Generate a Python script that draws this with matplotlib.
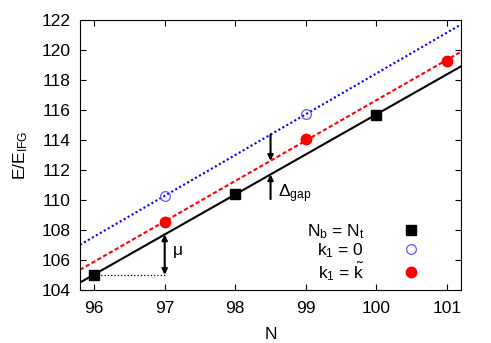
import numpy as np
import matplotlib
matplotlib.use("Agg")
import matplotlib.pyplot as plt

plt.rcParams['font.family'] = ['Liberation Sans', 'DejaVu Sans']
plt.rcParams['mathtext.fontset'] = 'custom'
plt.rcParams['mathtext.rm'] = 'Liberation Sans'
plt.rcParams['mathtext.it'] = 'Liberation Sans'

# Data
n_eq = [96, 98, 100]
e_eq = [105.0, 110.4, 115.68]
n_k0 = [97, 99]
e_k0 = [110.27, 115.71]
n_kt = [97, 99, 101]
e_kt = [108.52, 114.05, 119.29]

fig, ax = plt.subplots(figsize=(4.91, 3.43), dpi=100)
fig.subplots_adjust(left=0.163, right=0.939, top=0.942, bottom=0.155)

xs = np.array([95.8, 101.2])

# linear fits through each series
for nn, ee, st, col in [(n_eq, e_eq, '-', 'black'),
                        (n_kt, e_kt, (0, (2, 1.2)), 'red'),
                        (n_k0, e_k0, (0, (1, 1.2)), 'blue')]:
    p = np.polyfit(nn, ee, 1)
    ax.plot(xs, np.polyval(p, xs), linestyle=st, color=col, lw=1.5)

ax.plot(n_eq, e_eq, 's', color='black', ms=7, label=r'N$_\mathrm{b}$ = N$_\mathrm{t}$', zorder=5)
ax.plot(n_k0, e_k0, 'o', mfc='none', mec='#5a5aff', mew=0.9, ms=7, label=r'k$_1$ = 0', zorder=5)
ax.plot(n_kt, e_kt, 'o', color='red', ms=7.5, label=r'k$_1$ = $\tilde{\mathrm{k}}$', zorder=5)

# mu arrow
p_eq = np.polyfit(n_eq, e_eq, 1)
p_kt = np.polyfit(n_kt, e_kt, 1)
p_k0 = np.polyfit(n_k0, e_k0, 1)
ax.plot([96, 97], [e_eq[0], e_eq[0]], ':', color='black', lw=0.9)
ax.annotate('', xy=(97, np.polyval(p_eq, 97)), xytext=(97, e_eq[0]),
            arrowprops=dict(arrowstyle='<|-|>', color='black', lw=1.5,
                            mutation_scale=8, shrinkA=0, shrinkB=0))
ax.text(97.1, 106.3, r'$\mu$', fontsize=12.5)

# gap arrows
xg = 98.5
ax.annotate('', xy=(xg, np.polyval(p_kt, xg)), xytext=(xg, np.polyval(p_k0, xg)),
            arrowprops=dict(arrowstyle='-|>', color='black', lw=1.5,
                            mutation_scale=8, shrinkA=0, shrinkB=0))
ax.annotate('', xy=(xg, np.polyval(p_eq, xg)), xytext=(xg, 110.05),
            arrowprops=dict(arrowstyle='-|>', color='black', lw=1.5,
                            mutation_scale=8, shrinkA=0, shrinkB=0))
ax.text(98.6, 110.2, r'$\Delta_{\mathrm{gap}}$', fontsize=12.5)

ax.set_xlim(95.8, 101.2)
ax.set_ylim(104, 122)
ax.set_xticks([96, 97, 98, 99, 100, 101])
ax.set_yticks(np.arange(104, 123, 2))
ax.tick_params(direction='in', top=True, right=True, labelsize=12.5, length=4)
ax.tick_params(axis='x', pad=8)
ax.tick_params(axis='y', pad=7)
ax.set_xlabel('N', fontsize=12.5, labelpad=8)
ax.set_ylabel(r'E/E$_\mathrm{IFG}$', fontsize=12.5, labelpad=8)

ax.legend(loc='lower right', markerfirst=False, frameon=False, fontsize=12.5,
          handlelength=1.0, labelspacing=0.0, borderaxespad=0.0,
          bbox_to_anchor=(0.91, 0.0), handletextpad=2.2)

fig.savefig('out.png', dpi=100)
